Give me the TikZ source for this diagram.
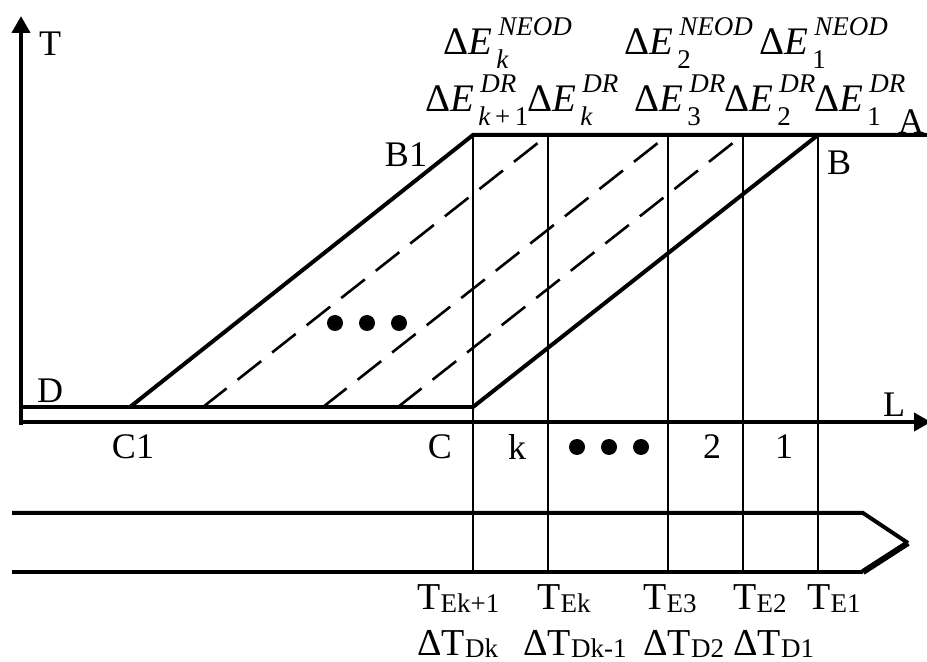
\documentclass[tikz,border=0pt]{standalone}
\usepackage{fontspec}
\setmainfont{Liberation Serif}
\usetikzlibrary{arrows.meta, positioning, calc}
\newcommand{\scrfont}{\fontsize{13.5}{14}\selectfont}
\newcommand{\dE}[2]{Δ\textit{E}\rlap{\kern3pt\raisebox{9.5pt}{\scrfont\textit{#2}}}\kern2pt\raisebox{-7pt}{\scrfont #1}}
\newcommand{\Tsub}[2]{#1\raisebox{-1.5pt}{\fontsize{13.5}{14}\selectfont #2}}

\begin{document}
\begin{tikzpicture}[x=0.5pt, y=-0.5pt,
    thickline/.style={line width=2pt},
    thinline/.style={line width=1pt},
    dashline/.style={line width=1.3pt, dash pattern=on 15pt off 7pt},
    axis/.style={line width=2pt, -{Triangle[length=8.5pt, width=9pt]}},
    lbl/.style={inner sep=0pt, font=\fontsize{18}{21}\selectfont},
    elbl/.style={lbl, anchor=base west, font=\fontsize{19.5}{22}\selectfont},
    blbl/.style={lbl, anchor=base west, font=\fontsize{19}{22}\selectfont},
    dot/.style={circle, fill, inner sep=0pt, minimum size=8pt}
]
\useasboundingbox (0,0) rectangle (927,662);

\coordinate (O)    at (21,422);
\coordinate (Ttip) at (21,16);
\coordinate (Ltip) at (931,422);
\coordinate (D)    at (21,407);
\coordinate (C1)   at (130,407);
\coordinate (C)    at (473,407);
\coordinate (B1)   at (473,135);
\coordinate (B)    at (818,135);
\coordinate (A)    at (927,135);

% axes
\draw[axis] ($(O)+(0,3)$) -- (Ttip);
\draw[axis] ($(O)+(-2,0)$) -- (Ltip);

% zones
\foreach \x [count=\i] in {473,548,668,743,818} {
  \coordinate (top\i) at (\x,135);
  \coordinate (bot\i) at (\x,572);
  \draw[thinline] (top\i) -- (bot\i);
}

\draw[thickline] (D) -- (C);
\draw[thickline] (C1) -- (B1) -- (A);
\draw[thickline] (C) -- (B);

\foreach \x [count=\i from 2] in {203,323,398}
  \draw[dashline] (\x,407) -- (top\i);

% strip
\coordinate (s1)  at (12,513);
\coordinate (s2)  at (863,513);
\coordinate (tip) at (908,543);
\coordinate (s3)  at (863,572);
\coordinate (s4)  at (12,572);
\draw[thickline] (s1) -- (s2) -- (tip);
\draw[thickline] (s4) -- (s3);
\draw[line width=3pt] (s3) -- (tip);

% dots
\foreach \x [count=\i] in {335,367,399} \node[dot] (pu\i) at (\x,323) {};
\foreach \x [count=\i] in {577,609,641} \node[dot] (pd\i) at (\x,447) {};

% labels
\node[lbl] (Tlab)  at (50,44)   {T};
\node[lbl] (B1lab) at (406,155) {B1};
\node[lbl] (Alab)  at (911,122) {A};
\node[lbl] (Blab)  at (839,163) {B};
\node[lbl] (Dlab)  at (50,391)  {D};
\node[lbl] (C1lab) at (133,447) {C1};
\node[lbl] (Clab)  at (440,447) {C};
\node[lbl] (Llab)  at (894,405) {L};
\node[lbl] (zk)    at (517,447) {k};
\node[lbl] (z2)    at (712,447) {2};
\node[lbl] (z1)    at (784,447) {1};

\node[elbl] (nk) at (443,55) {\dE{\textit{k}}{NEOD}};
\node[elbl] (n2) at (624,55) {\dE{2}{NEOD}};
\node[elbl] (n1) at (759,55) {\dE{1}{NEOD}};

\node[elbl] (rk1) at (425,112) {\dE{\textit{k}\,+\,1}{DR}};
\node[elbl] (rk)  at (527,112) {\dE{\textit{k}}{DR}};
\node[elbl] (r3)  at (634,112) {\dE{3}{DR}};
\node[elbl] (r2)  at (724,112) {\dE{2}{DR}};
\node[elbl] (r1)  at (814,112) {\dE{1}{DR}};

\node[blbl] (te1) at (417,610) {\Tsub{T}{Ek+1}};
\node[blbl] (te2) at (537,610) {\Tsub{T}{Ek}};
\node[blbl] (te3) at (643,610) {\Tsub{T}{E3}};
\node[blbl] (te4) at (733,610) {\Tsub{T}{E2}};
\node[blbl] (te5) at (807,610) {\Tsub{T}{E1}};

\node[blbl] (td1) at (417,655) {\Tsub{ΔT}{Dk}};
\node[blbl] (td2) at (523,655) {\Tsub{ΔT}{Dk-1}};
\node[blbl] (td3) at (643,655) {\Tsub{ΔT}{D2}};
\node[blbl] (td4) at (733,655) {\Tsub{ΔT}{D1}};
\end{tikzpicture}
\end{document}
